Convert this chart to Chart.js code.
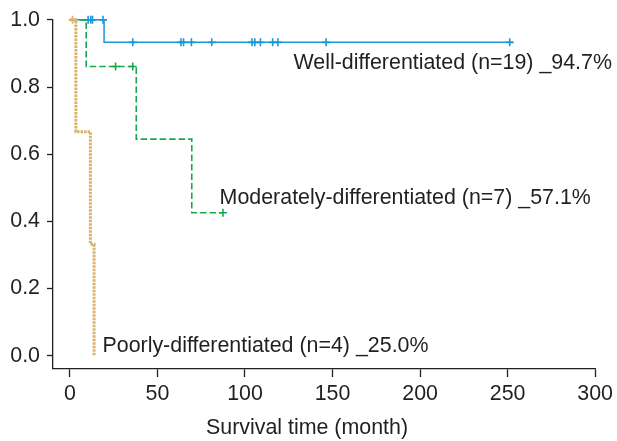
<!DOCTYPE html>
<html>
<head>
<meta charset="utf-8">
<script src="https://cdn.jsdelivr.net/npm/chart.js@4.4.1/dist/chart.umd.min.js"></script>
<style>
    html, body { margin: 0; padding: 0; background: #fff; }
    #wrap { width: 617px; height: 441px; }
</style>
</head>
<body>
<div id="wrap"><canvas id="km"></canvas></div>
<script>
// --- data ---
const GROUP_LABELS = [
    'Well-differentiated (n=19) _94.7%',
    'Moderately-differentiated (n=7) _57.1%',
    'Poorly-differentiated (n=4) _25.0%'
];
const X_TITLE = 'Survival time (month)';
const X_TICKS = [0, 50, 100, 150, 200, 250, 300];
const Y_TICKS = [0, 0.2, 0.4, 0.6, 0.8, 1.0];

// Kaplan-Meier steps: time of each step and survival after it
const WELL_TIME = [0, 19.5, 253];
const WELL_SURV = [1, 0.933, 0.933];
const WELL_CENSOR = [10.4, 11.9, 12.9, 18.9, 35.9, 63.4, 64.9, 69.4, 81.0, 104.0, 105.6, 108.8, 115.8, 118.8, 146.3, 251.2];

const MOD_TIME = [0, 9.3, 37.9, 69.6, 87.4];
const MOD_SURV = [1, 0.861, 0.645, 0.426, 0.426];
const MOD_CENSOR = [26.1, 35.9, 87.4];

const POOR_TIME = [0, 3.4, 11.7, 13.8];
const POOR_SURV = [1, 0.667, 0.332, 0];
const POOR_CENSOR = [1.5];

// --- styling ---
const FONT = "'Liberation Sans', Arial, Helvetica, sans-serif";
const FONT_SIZE = 21.4;
const TEXT_COLOR = '#231f20';
const BLUE = '#1a98d5';
const GREEN = '#17a84f';
const TAN = '#d9b36c';

function toPoints(times, survs) {
    return times.map((t, i) => ({ x: t, y: survs[i] }));
}

// censor marks sit on the curve level at that time
function censorPoints(censors, times, survs) {
    return censors.map(c => {
        let s = survs[0];
        times.forEach((t, i) => { if (t <= c) s = survs[i]; });
        return { x: c, y: s };
    });
}

function curve(label, times, survs, color, width, dash) {
    return {
        label: label,
        data: toPoints(times, survs),
        showLine: true,
        borderColor: color,
        borderWidth: width,
        borderDash: dash,
        stepped: 'before',
        pointRadius: 0,
        fill: false,
        clip: false
    };
}

function marks(censors, times, survs, color) {
    return {
        data: censorPoints(censors, times, survs),
        showLine: false,
        pointStyle: 'cross',
        pointRadius: 4,
        pointBorderColor: color,
        pointBorderWidth: 1.6,
        clip: false
    };
}

// group labels and the x axis title, drawn on top
const textPlugin = {
    id: 'kmText',
    afterDatasetsDraw(chart, args, opts) {
        const { ctx, scales } = chart;
        ctx.save();
        ctx.fillStyle = TEXT_COLOR;
        ctx.font = `${FONT_SIZE}px ${FONT}`;
        ctx.textAlign = 'left';
        ctx.textBaseline = 'alphabetic';
        opts.labels.forEach((lab, i) => {
            const pos = opts.positions[i];
            ctx.fillText(lab, scales.x.getPixelForValue(pos[0]), scales.y.getPixelForValue(pos[1]));
        });
        ctx.textAlign = 'center';
        ctx.fillText(opts.title, opts.titleX, opts.titleY);
        ctx.restore();
    }
};

const tickFilter = (values) => (scale) => {
    scale.ticks = values.map(v => ({ value: v }));
};

new Chart(document.getElementById('km'), {
    type: 'scatter',
    data: {
        datasets: [
            curve(GROUP_LABELS[2], POOR_TIME, POOR_SURV, TAN, 3, [2.5, 1]),
            marks(POOR_CENSOR, POOR_TIME, POOR_SURV, TAN),
            curve(GROUP_LABELS[1], MOD_TIME, MOD_SURV, GREEN, 1.6, [6.5, 3]),
            marks(MOD_CENSOR, MOD_TIME, MOD_SURV, GREEN),
            curve(GROUP_LABELS[0], WELL_TIME, WELL_SURV, BLUE, 1.5, []),
            marks(WELL_CENSOR, WELL_TIME, WELL_SURV, BLUE)
        ]
    },
    options: {
        responsive: true,
        maintainAspectRatio: false,
        animation: false,
        layout: { padding: { top: 17, right: 19, left: 0, bottom: 0 } },
        plugins: {
            legend: { display: false },
            tooltip: { enabled: false },
            kmText: {
                labels: GROUP_LABELS,
                positions: [[127.7, 0.854], [85.5, 0.453], [18.6, 0.01]],
                title: X_TITLE,
                titleX: 307,
                titleY: 434
            }
        },
        scales: {
            x: {
                type: 'linear',
                min: -9.66,
                max: 300,
                afterBuildTicks: tickFilter(X_TICKS),
                afterFit: (scale) => { scale.height = 72; },
                grid: {
                    drawOnChartArea: false,
                    drawTicks: true,
                    tickLength: 8,
                    tickColor: TEXT_COLOR,
                    tickWidth: 1.3
                },
                border: { display: true, color: TEXT_COLOR, width: 1.3 },
                ticks: {
                    color: TEXT_COLOR,
                    font: { family: FONT, size: FONT_SIZE },
                    padding: 4,
                    maxRotation: 0,
                    autoSkip: false
                }
            },
            y: {
                type: 'linear',
                min: -0.0393,
                max: 1.0,
                afterBuildTicks: tickFilter(Y_TICKS),
                afterFit: (scale) => { scale.width = 53; },
                grid: {
                    drawOnChartArea: false,
                    drawTicks: true,
                    tickLength: 6,
                    tickColor: TEXT_COLOR,
                    tickWidth: 1.3
                },
                border: { display: true, color: TEXT_COLOR, width: 1.3 },
                ticks: {
                    color: TEXT_COLOR,
                    font: { family: FONT, size: FONT_SIZE },
                    padding: 7,
                    autoSkip: false,
                    callback: (v) => v.toFixed(1)
                }
            }
        }
    },
    plugins: [textPlugin]
});
</script>
</body>
</html>
